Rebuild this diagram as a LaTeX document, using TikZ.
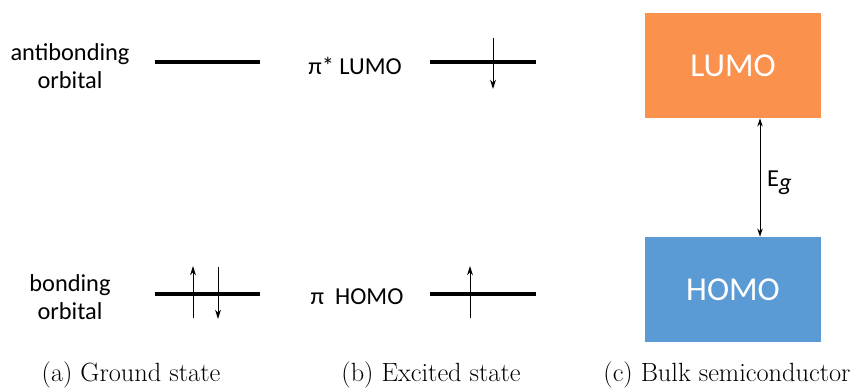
\documentclass[tikz,border=0pt]{standalone}
\usepackage{fontspec}
\newfontfamily\calib{Carlito}
\usetikzlibrary{arrows.meta}
\definecolor{lumoorange}{RGB}{250,145,77}
\definecolor{homoblue}{RGB}{91,155,213}
\tikzset{
  lbl/.style={font=\calib\fontsize{20.8}{24.5}\selectfont,align=center,inner sep=0pt},
  level/.style={line width=3.6pt},
  spin/.style={-{Stealth[length=8pt,width=5pt]},line width=0.8pt},
  band/.style={minimum width=176*0.03cm,minimum height=105*0.03cm,inner sep=0pt,
    text=white,font=\calib\fontsize{28.5}{32}\selectfont},
  capt/.style={font=\fontsize{22.5}{26}\selectfont,inner sep=0pt}
}
\begin{document}
\begin{tikzpicture}[x=0.03cm,y=-0.03cm]
	  \useasboundingbox (0,0) rectangle (857,387);
	  % (a) ground state
	  \node[lbl] (anti) at (70,66) {antibonding\\orbital};
	  \node[lbl] (bond) at (70,297) {bonding\\orbital};
	  \coordinate (a1l) at (155,62);
	  \coordinate (a1r) at (260,62);
	  \coordinate (a2l) at (155,294);
	  \coordinate (a2r) at (260,294);
	  \draw[level] (a1l) -- (a1r);
	  \draw[level] (a2l) -- (a2r);
	  \coordinate (up1b) at (193,318);
	  \coordinate (up1t) at (193,266);
	  \coordinate (dn1t) at (218,267);
	  \coordinate (dn1b) at (218,319);
	  \draw[spin] (up1b) -- (up1t);
	  \draw[spin] (dn1t) -- (dn1b);
	  % (b) excited state
	  \node[lbl] (pistar) at (355,66) {π* LUMO};
	  \node[lbl] (pi) at (357,297) {π\ \ HOMO};
	  \coordinate (b1l) at (430,62);
	  \coordinate (b1r) at (536,62);
	  \coordinate (b2l) at (430,294);
	  \coordinate (b2r) at (536,294);
	  \draw[level] (b1l) -- (b1r);
	  \draw[level] (b2l) -- (b2r);
	  \coordinate (dn2t) at (493,38);
	  \coordinate (dn2b) at (493,89);
	  \coordinate (up2b) at (470,318);
	  \coordinate (up2t) at (470,266);
	  \draw[spin] (dn2t) -- (dn2b);
	  \draw[spin] (up2b) -- (up2t);
	  % (c) bulk semiconductor
	  \node[band,fill=lumoorange] (lumo) at (733,65.5) {LUMO};
	  \node[band,fill=homoblue] (homo) at (733,289.5) {HOMO};
	  \draw[{Stealth[length=7pt,width=4.5pt]}-{Stealth[length=7pt,width=4.5pt]},line width=0.8pt]
	    (lumo.south -| 760,0) -- (homo.north -| 760,0);
	  \node[lbl,anchor=west] (eg) at (767,183) {E\raisebox{-0.3ex}{\itshape g}};
	  % captions
	  \node[capt] (ca) at (131,375) {(a) Ground state};
	  \node[capt] (cb) at (431,375) {(b) Excited state};
	  \node[capt] (cc) at (727,375) {(c) Bulk semiconductor};
\end{tikzpicture}
\end{document}
